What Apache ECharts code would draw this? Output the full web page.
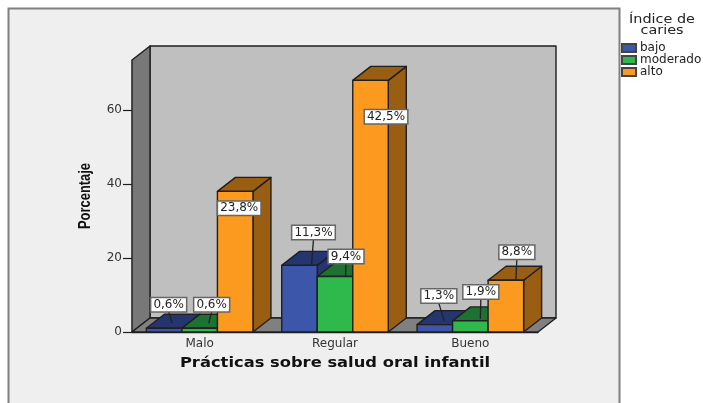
<!DOCTYPE html>
<html>
<head>
<meta charset="utf-8">
<style>html,body{margin:0;padding:0;background:#fff}#c{width:703px;height:403px}</style>
<script src="https://cdn.jsdelivr.net/npm/echarts@6/dist/echarts.min.js"></script>
</head>
<body>
<div id="c"></div>
<script>
// Counts per caries level; each bar's label is its share of all children surveyed.
const categories = ['Malo', 'Regular', 'Bueno'];
const bajo = [1, 18, 2];
const moderado = [1, 15, 3];
const alto = [38, 68, 14];
const totalChildren = 160;
const yTicks = [0, 20, 40, 60];

// Label box centre and optional leader end, relative to the top-centre of each bar.
const labelPlacement = {
  bajo:     [[4.5, -23.5, 8, -5], [14, -33, 12, 0], [4, -28.5, 9.5, -3.5]],
  moderado: [[12, -23.5, 9, -5], [11, -20, 10.5, 0], [10.5, -29, 10, -2]],
  alto:     [[4, 17], [15.5, 36.5], [11, -28, 10, 0]]
};

const DEPTH_X = 18, DEPTH_Y = 14;
const INK = '#1f1f1f';
const palette = {
  bajo:     { front: '#3c57a9', shade: '#24356f' },
  moderado: { front: '#2fb84c', shade: '#1d7131' },
  alto:     { front: '#fb9a1e', shade: '#9a5e12' }
};

const pct = v => (v / totalChildren * 100).toFixed(1).replace('.', ',') + '%';
const poly = (points, fill) => ({
  type: 'polygon',
  shape: { points },
  style: { fill, stroke: INK, lineWidth: 1.4, lineJoin: 'round' }
});

// Left wall, back wall and floor of the 3D box behind the bars.
function renderBox(params) {
  const g = params.coordSys;
  const l = g.x, r = g.x + g.width, t = g.y, b = g.y + g.height;
  const dx = DEPTH_X, dy = DEPTH_Y;
  return {
    type: 'group',
    children: [
      poly([[l + dx, t - dy], [r + dx, t - dy], [r + dx, b - dy], [l + dx, b - dy]], '#bfbfbf'),
      poly([[l, t], [l + dx, t - dy], [l + dx, b - dy], [l, b]], '#787878'),
      poly([[l, b], [l + dx, b - dy], [r + dx, b - dy], [r, b]], '#808080')
    ]
  };
}

// One cuboid per data item, plus its white value tag and leader line.
function barRenderer(key, slot, values) {
  return function (params, api) {
    const i = params.dataIndex;
    const top = api.coord([i, values[i]]);
    const base = api.coord([i, 0]);
    const w = api.size([1, 0])[0] * 0.2625;
    const x0 = top[0] + (slot - 1.5) * w;
    const x1 = x0 + w;
    const y0 = top[1], y1 = base[1];
    const c = palette[key];
    const dx = DEPTH_X, dy = DEPTH_Y;
    const cx = (x0 + x1) / 2;
    const p = labelPlacement[key][i];
    const children = [
      poly([[x1, y0], [x1 + dx, y0 - dy], [x1 + dx, y1 - dy], [x1, y1]], c.shade),
      poly([[x0, y0], [x0 + dx, y0 - dy], [x1 + dx, y0 - dy], [x1, y0]], c.shade),
      poly([[x0, y0], [x1, y0], [x1, y1], [x0, y1]], c.front)
    ];
    if (p.length > 2) {
      children.push({
        type: 'line',
        z2: 50,
        shape: { x1: cx + p[0], y1: y0 + p[1] + 7, x2: cx + p[2], y2: y0 + p[3] },
        style: { stroke: '#222', lineWidth: 1.3 }
      });
    }
    children.push({
      type: 'text',
      z2: 60,
      style: {
        x: cx + p[0], y: y0 + p[1],
        text: pct(values[i]),
        align: 'center', verticalAlign: 'middle',
        fill: '#222',
        font: '12px "DejaVu Sans"',
        backgroundColor: '#fff',
        borderColor: '#666',
        borderWidth: 1.5,
        padding: [1, 2, 0, 2]
      }
    });
    return { type: 'group', children };
  };
}

const barSeries = (name, key, slot, values) => ({
  name,
  type: 'custom',
  z: 3,
  clip: false,
  renderItem: barRenderer(key, slot, values),
  encode: { x: 0, y: 1 },
  itemStyle: { color: palette[key].front, borderColor: '#444', borderWidth: 1.5 },
  data: values.map((v, i) => [i, v])
});

const chart = echarts.init(document.getElementById('c'), null, { renderer: 'canvas' });
chart.setOption({
  animation: false,
  backgroundColor: '#fff',
  grid: { left: 132, right: 165, top: 60, bottom: 71 },
  graphic: [
    {
      type: 'rect', z: -10, silent: true,
      shape: { x: 8.5, y: 8.5, width: 611, height: 400 },
      style: { fill: '#efefef', stroke: '#808080', lineWidth: 2 }
    },
    {
      // Legend heading, stretched to its wide setting.
      type: 'text', x: 662, y: 25, scaleX: 1.2, z: 5, silent: true,
      style: {
        text: 'Índice de\ncaries',
        align: 'center', verticalAlign: 'middle',
        fill: '#222',
        font: '12px "DejaVu Sans"',
        lineHeight: 11
      }
    },
    {
      type: 'text', x: 335, y: 363, scaleX: 1.165, z: 5, silent: true,
      style: {
        text: 'Prácticas sobre salud oral infantil',
        align: 'center', verticalAlign: 'middle',
        fill: '#111',
        font: 'bold 14px "DejaVu Sans"'
      }
    },
    {
      type: 'text', x: 85, y: 196, rotation: Math.PI / 2, scaleX: 0.76, z: 5, silent: true,
      style: {
        text: 'Porcentaje',
        align: 'center', verticalAlign: 'middle',
        fill: '#111',
        font: 'bold 17px "Liberation Sans"'
      }
    }
  ],
  legend: {
    data: ['bajo', 'moderado', 'alto'],
    orient: 'vertical',
    left: 621, top: 42,
    padding: 0,
    itemWidth: 14, itemHeight: 8, itemGap: 0,
    icon: 'rect',
    textStyle: { fontFamily: 'DejaVu Sans', fontSize: 12, lineHeight: 11, height: 11, color: '#222', padding: [0, 0, 0, -1] }
  },
  xAxis: {
    type: 'category',
    data: categories,
    axisLine: { lineStyle: { color: INK, width: 1.4 } },
    axisTick: { alignWithLabel: true, length: 6, lineStyle: { color: INK, width: 1.2 } },
    axisLabel: { fontFamily: 'DejaVu Sans', fontSize: 12, color: '#333', margin: 6 }
  },
  yAxis: {
    type: 'value',
    min: 0,
    max: 73.5,
    interval: 20,
    splitLine: { show: false },
    axisLine: { show: true, lineStyle: { color: INK, width: 1.4 } },
    axisTick: { show: true, length: 9, customValues: yTicks, lineStyle: { color: INK, width: 1.2 } },
    axisLabel: { fontFamily: 'DejaVu Sans', fontSize: 12, color: '#333', margin: 10, customValues: yTicks }
  },
  series: [
    { name: 'caja', type: 'custom', z: 1, silent: true, clip: false, renderItem: renderBox, encode: { x: 0, y: 1 }, data: [[0, 0]] },
    barSeries('bajo', 'bajo', 0, bajo),
    barSeries('moderado', 'moderado', 1, moderado),
    barSeries('alto', 'alto', 2, alto)
  ]
});
</script>
</body>
</html>
